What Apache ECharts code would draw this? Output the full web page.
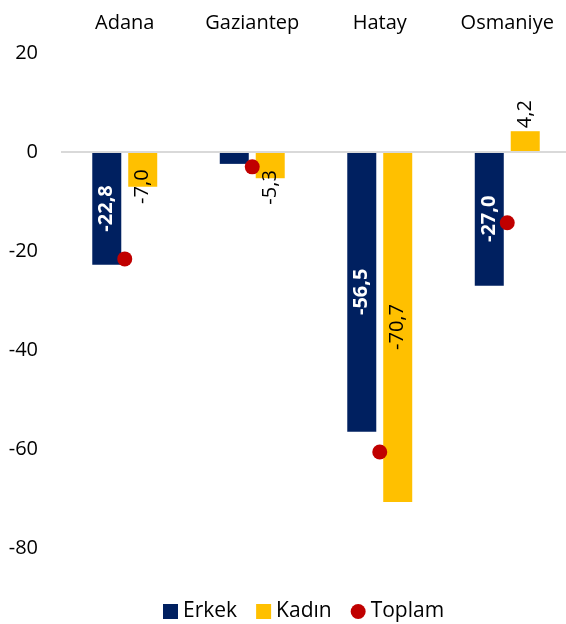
<!DOCTYPE html>
<html>
<head>
<meta charset="utf-8">
<script src="https://cdn.jsdelivr.net/npm/echarts@6/dist/echarts.min.js"></script>
<style>
    html, body { margin: 0; padding: 0; background: #fff; }
    #chart { width: 566px; height: 624px; }
</style>
</head>
<body>
<div id="chart"></div>
<script>
// provinces and changes
const categories = ['Adana', 'Gaziantep', 'Hatay', 'Osmaniye'];
const erkekValues = [-22.8, -2.4, -56.5, -27.0];
const kadinValues = [-7.0, -5.3, -70.7, 4.2];
const toplamValues = [-21.6, -3.0, -60.6, -14.3];
const yTicks = { min: -80, max: 20, interval: 20 };

const fontFamily = '"Open Sans", "Noto Sans", sans-serif';
const navy = '#002060';
const gold = '#FFC000';
const red = '#C00000';

const fmt = (v) => v.toFixed(1).replace('.', ',');

const chart = echarts.init(document.getElementById('chart'));

// Excel puts the small Kadın labels around the end of the bar
const kadinLabelPos = [
    { position: ['50%', '100%'], align: 'center', verticalAlign: 'middle' },
    { position: ['50%', '135%'], align: 'center', verticalAlign: 'middle' },
    { position: 'inside', align: 'center', verticalAlign: 'middle' },
    { position: 'top', distance: 3, align: 'left', verticalAlign: 'middle' }
];

chart.setOption({
    animation: false,
    textStyle: { fontFamily: fontFamily },
    grid: {
        left: 61,
        top: 53,
        width: 510,
        bottom: 76,
        containLabel: false,
        outerBoundsMode: 'none'
    },
    legend: {
        top: 596,
        left: 158,
        itemWidth: 15,
        itemHeight: 15,
        itemGap: 19,
        textStyle: { fontSize: 21, color: '#000', fontFamily: fontFamily },
        data: [
            { name: 'Erkek', icon: 'rect' },
            { name: 'Kadın', icon: 'rect' },
            { name: 'Toplam', icon: 'circle' }
        ]
    },
    xAxis: {
        type: 'category',
        position: 'top',
        data: categories,
        axisLine: { show: false },
        axisTick: { show: false },
        axisLabel: {
            color: '#000',
            fontSize: 20,
            margin: 20
        }
    },
    yAxis: {
        type: 'value',
        min: yTicks.min,
        max: yTicks.max,
        interval: yTicks.interval,
        axisLine: { show: false },
        axisTick: { show: false },
        splitLine: { show: false },
        axisLabel: {
            color: '#000',
            fontSize: 20,
            margin: 23
        }
    },
    series: [
        {
            name: 'Erkek',
            type: 'bar',
            data: erkekValues.map((v, i) => ({
                value: v,
                label: { show: i !== 1 }
            })),
            barWidth: 29,
            barGap: '24%',
            itemStyle: { color: navy },
            label: {
                show: true,
                position: 'inside',
                rotate: 90,
                color: '#fff',
                fontWeight: 'bold',
                fontSize: 20,
                formatter: (p) => fmt(p.value)
            },
            markLine: {
                silent: true,
                symbol: 'none',
                label: { show: false },
                lineStyle: { color: '#d9d9d9', width: 2, type: 'solid' },
                data: [{ yAxis: 0 }]
            },
            z: 2
        },
        {
            name: 'Kadın',
            type: 'bar',
            data: kadinValues.map((v, i) => ({
                value: v,
                label: kadinLabelPos[i]
            })),
            barWidth: 29,
            itemStyle: { color: gold },
            label: {
                show: true,
                rotate: 90,
                color: '#000',
                fontSize: 20,
                formatter: (p) => fmt(p.value)
            },
            z: 2
        },
        {
            name: 'Toplam',
            type: 'scatter',
            data: toplamValues,
            symbol: 'circle',
            symbolSize: 15,
            itemStyle: { color: red, opacity: 1 },
            z: 5
        }
    ]
});
</script>
</body>
</html>
